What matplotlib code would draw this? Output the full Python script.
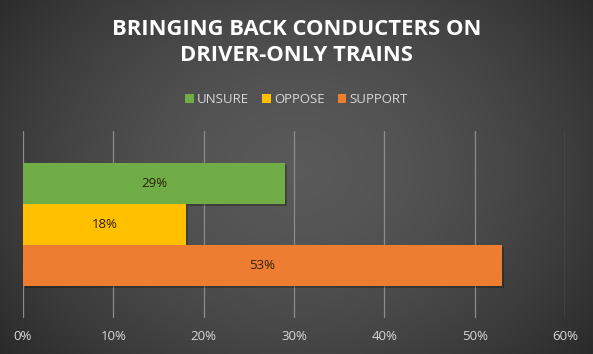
import numpy as np
import matplotlib
matplotlib.use("Agg")
import matplotlib.pyplot as plt

# data
series = ["UNSURE", "OPPOSE", "SUPPORT"]
values = [29, 18, 53]
colors = ["#70AD47", "#FFC000", "#ED7D31"]
ticks = [0, 10, 20, 30, 40, 50, 60]
tick_labels = ["0%", "10%", "20%", "30%", "40%", "50%", "60%"]
title = "BRINGING BACK CONDUCTERS ON\nDRIVER-ONLY TRAINS"

plt.rcParams['font.family'] = ['Open Sans', 'DejaVu Sans']

fig = plt.figure(figsize=(5.93, 3.54), dpi=100)

# radial gradient background
bg = fig.add_axes([0, 0, 1, 1], zorder=-10)
yy, xx = np.mgrid[0:354, 0:593]
r = np.sqrt(((xx - 296) / 330.0) ** 2 + ((yy - 170) / 260.0) ** 2)
shade = 0.35 - 0.15 * np.clip(r, 0, 1.2) ** 1.6
bg.imshow(np.dstack([shade, shade, shade]), aspect='auto', extent=[0, 1, 0, 1])
bg.axis('off')

ax = fig.add_axes([23 / 593, 36 / 354, 542 / 593, 187 / 354])
ax.patch.set_alpha(0)

h = 0.219
pos = [h, 0, -h]
for name, v, c, y in zip(series, values, colors, pos):
    # shadow
    ax.barh(y - 0.012, v, height=h, left=0.25, color="black", alpha=0.25, zorder=2)
    ax.barh(y, v, height=h, color=c, label=name, zorder=3)
    ax.text(v / 2, y, f"{v}%", ha='center', va='center', fontsize=9.5,
            color="#2e2008", zorder=4)

ax.set_xlim(0, 60)
ax.set_ylim(-0.5, 0.5)
ax.set_xticks(ticks)
ax.set_xticklabels(tick_labels, color="#d9d9d9", fontsize=9.5)
ax.set_yticks([])
ax.tick_params(axis='x', length=0, pad=9)
ax.grid(axis='x', color="#8c8c8c", linewidth=0.9, zorder=0)
for s in ax.spines.values():
    s.set_visible(False)

fig.text(0.5, 0.881, title, ha='center', va='center', fontsize=15.8,
         fontweight='bold', color="white", linespacing=1.3)

leg = fig.legend(loc='center', bbox_to_anchor=(0.5, 0.718), ncol=3, frameon=False,
                 fontsize=9.5, handlelength=0.65, handleheight=0.65,
                 handletextpad=0.25, columnspacing=1.0)
for t in leg.get_texts():
    t.set_color("#d9d9d9")

fig.savefig("out.png", dpi=100)
